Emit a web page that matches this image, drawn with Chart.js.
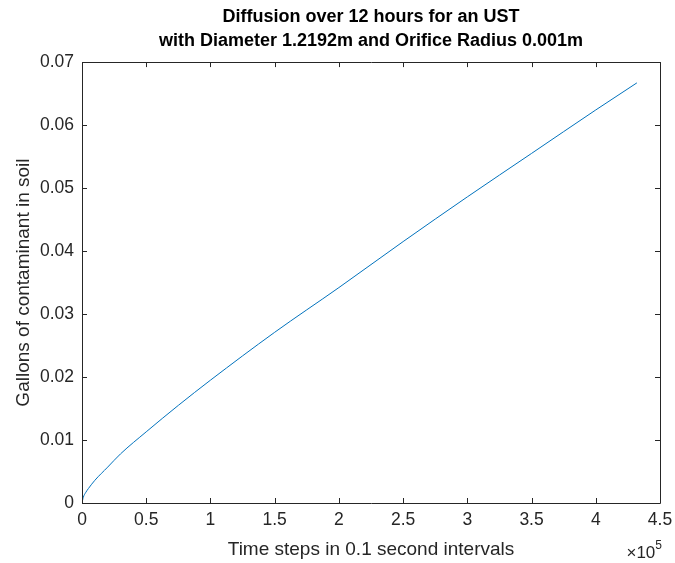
<!DOCTYPE html>
<html>
<head>
<meta charset="utf-8">
<script src="https://cdn.jsdelivr.net/npm/chart.js@4/dist/chart.umd.min.js"></script>
<style>
  html, body { margin: 0; padding: 0; background: #fff; }
  #wrap { width: 675px; height: 563px; }
</style>
</head>
<body>
<div id="wrap"><canvas id="chart"></canvas></div>
<script>
// time step (0.1 s each) and gallons in soil
const timeSteps = [0, 1000, 3000, 5000, 10000, 20000, 30000, 50000, 75000, 100000,
  150000, 200000, 250000, 300000, 350000, 400000, 432000]
const gallons = [0, 0.0009, 0.0017, 0.0023, 0.0036, 0.0057, 0.0078, 0.0113, 0.0155, 0.0195,
  0.0271, 0.0342, 0.0415, 0.0486, 0.0555, 0.0624, 0.0667]

const xTicks = [0, 50000, 100000, 150000, 200000, 250000, 300000, 350000, 400000, 450000]
const yTicks = [0, 0.01, 0.02, 0.03, 0.04, 0.05, 0.06, 0.07]

const axisColor = '#262626'
const font = 'Arial, "Liberation Sans", Helvetica, sans-serif'

// box around the axes with inward tick marks, plus the x10^5 exponent
const boxAxes = {
  id: 'boxAxes',
  afterDraw(chart) {
    const { ctx, chartArea: a, scales: { x, y } } = chart
    const len = 5
    ctx.save()
    ctx.strokeStyle = axisColor
    ctx.lineWidth = 1
    ctx.beginPath()
    ctx.rect(Math.round(a.left) + 0.5, Math.round(a.top) + 0.5,
      Math.round(a.right - a.left), Math.round(a.bottom - a.top))
    xTicks.forEach((v) => {
      const px = Math.round(x.getPixelForValue(v)) + 0.5
      ctx.moveTo(px, a.bottom); ctx.lineTo(px, a.bottom - len)
      ctx.moveTo(px, a.top); ctx.lineTo(px, a.top + len)
    })
    yTicks.forEach((v) => {
      const py = Math.round(y.getPixelForValue(v)) + 0.5
      ctx.moveTo(a.left, py); ctx.lineTo(a.left + len, py)
      ctx.moveTo(a.right, py); ctx.lineTo(a.right - len, py)
    })
    ctx.stroke()

    ctx.fillStyle = axisColor
    ctx.textBaseline = 'alphabetic'
    ctx.textAlign = 'left'
    ctx.font = '12px ' + font
    const sup = '5'
    const supW = ctx.measureText(sup).width
    ctx.font = '17px ' + font
    const base = '\u00d710'
    const baseW = ctx.measureText(base).width
    const xr = a.right + 2
    ctx.fillText(base, xr - supW - baseW, a.bottom + 55)
    ctx.font = '12px ' + font
    ctx.fillText(sup, xr - supW, a.bottom + 46)
    ctx.restore()
  }
}

const ctx = document.getElementById('chart').getContext('2d')
new Chart(ctx, {
  type: 'line',
  data: {
    datasets: [{
      data: timeSteps.map((t, i) => ({ x: t, y: gallons[i] })),
      borderColor: '#0072BD',
      borderWidth: 1,
      pointRadius: 0,
      fill: false,
      cubicInterpolationMode: 'monotone'
    }]
  },
  options: {
    responsive: true,
    maintainAspectRatio: false,
    animation: false,
    layout: { padding: { left: 0, right: 15, top: 0, bottom: 0 } },
    plugins: {
      legend: { display: false },
      tooltip: { enabled: false },
      title: {
        display: true,
        fullSize: false,
        text: ['Diffusion over 12 hours for an UST', 'with Diameter 1.2192m and Orifice Radius 0.001m'],
        color: '#000',
        font: { family: font, size: 18, weight: 'bold', lineHeight: 1.28 },
        padding: { top: 6, bottom: 10 }
      }
    },
    scales: {
      x: {
        type: 'linear',
        min: 0,
        max: 450000,
        afterFit: (s) => { s.height = 60; s.paddingLeft = 0; s.paddingRight = 0 },
        afterBuildTicks: (s) => { s.ticks = xTicks.map((v) => ({ value: v })) },
        grid: { display: false, drawTicks: false },
        border: { display: false },
        ticks: {
          color: axisColor,
          font: { family: font, size: 17.5 },
          padding: 7,
          maxRotation: 0,
          autoSkip: false,
          callback: (v) => String(Number((v / 100000).toFixed(1)))
        },
        title: {
          display: true,
          text: 'Time steps in 0.1 second intervals',
          color: axisColor,
          font: { family: font, size: 19, lineHeight: 1.2 },
          padding: { top: 0, bottom: 2 }
        }
      },
      y: {
        type: 'linear',
        min: 0,
        max: 0.07,
        afterFit: (s) => { s.width = 82; s.paddingTop = 0; s.paddingBottom = 0 },
        afterBuildTicks: (s) => { s.ticks = yTicks.map((v) => ({ value: v })) },
        grid: { display: false, drawTicks: false },
        border: { display: false },
        ticks: {
          color: axisColor,
          font: { family: font, size: 17.5 },
          padding: 8,
          autoSkip: false,
          callback: (v) => String(Number(v.toFixed(2)))
        },
        title: {
          display: true,
          text: 'Gallons of contaminant in soil',
          color: axisColor,
          font: { family: font, size: 19, lineHeight: 1.2 },
          padding: { top: 12, bottom: 0 }
        }
      }
    }
  },
  plugins: [boxAxes]
})
</script>
</body>
</html>
